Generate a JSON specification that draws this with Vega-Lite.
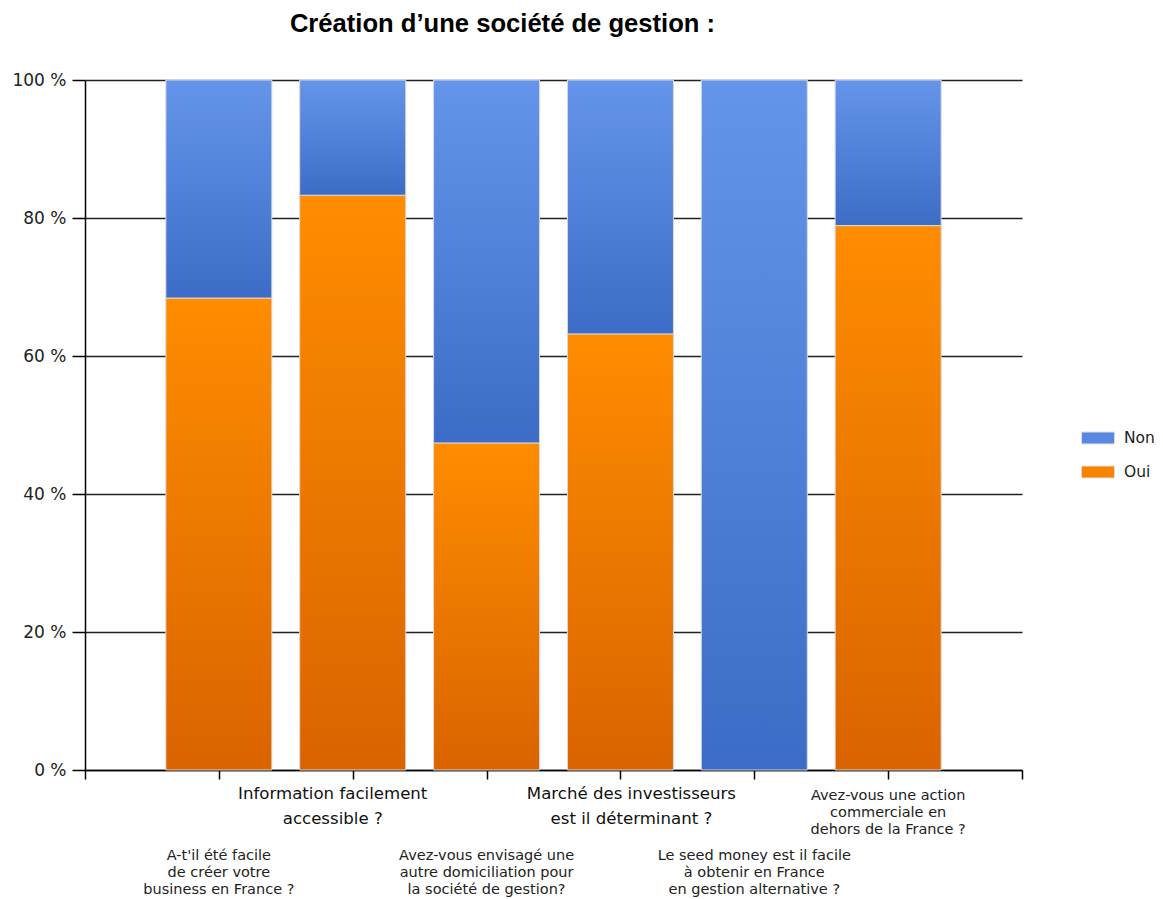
{
  "$schema": "https://vega.github.io/schema/vega-lite/v6.json",
  "width": 937,
  "height": 690,
  "autosize": {"type": "none"},
  "padding": {"left": 85, "top": 80, "right": 141, "bottom": 129},
  "background": "white",
  "title": {
    "text": "Création d’une société de gestion :",
    "font": "Liberation Sans",
    "fontSize": 25.6,
    "fontWeight": "bold",
    "color": "#000000",
    "anchor": "middle",
    "frame": "group",
    "dx": -51,
    "offset": 33
  },
  "datasets": {
    "bars": [
      {"q": 1, "reponse": "Oui", "debut": 0, "fin": 68.4},
      {"q": 1, "reponse": "Non", "debut": 68.4, "fin": 100},
      {"q": 2, "reponse": "Oui", "debut": 0, "fin": 83.3},
      {"q": 2, "reponse": "Non", "debut": 83.3, "fin": 100},
      {"q": 3, "reponse": "Oui", "debut": 0, "fin": 47.4},
      {"q": 3, "reponse": "Non", "debut": 47.4, "fin": 100},
      {"q": 4, "reponse": "Oui", "debut": 0, "fin": 63.2},
      {"q": 4, "reponse": "Non", "debut": 63.2, "fin": 100},
      {"q": 5, "reponse": "Oui", "debut": 0, "fin": 0},
      {"q": 5, "reponse": "Non", "debut": 0, "fin": 100},
      {"q": 6, "reponse": "Oui", "debut": 0, "fin": 78.9},
      {"q": 6, "reponse": "Non", "debut": 78.9, "fin": 100}
    ],
    "labels": [
      {"q": 1, "rang": "bas", "label": "A-t'il été facile\nde créer votre\nbusiness en France ?"},
      {"q": 2, "rang": "haut", "label": "Information facilement\naccessible ?"},
      {"q": 3, "rang": "bas", "label": "Avez-vous envisagé une\nautre domiciliation pour\nla société de gestion?"},
      {"q": 4, "rang": "haut", "label": "Marché des investisseurs\nest il déterminant ?"},
      {"q": 5, "rang": "bas", "label": "Le seed money est il facile\nà obtenir en France\nen gestion alternative ?"},
      {"q": 6, "rang": "haut2", "label": "Avez-vous une action\ncommerciale en\ndehors de la France ?"}
    ]
  },
  "config": {
    "view": {"stroke": null},
    "axis": {
      "domainColor": "#000000",
      "tickColor": "#000000",
      "gridColor": "#222222",
      "labelFont": "DejaVu Sans",
      "labelColor": "#222222"
    }
  },
  "encoding": {
    "x": {
      "field": "q",
      "type": "quantitative",
      "scale": {"domain": [0, 7], "nice": false, "zero": false, "padding": 0},
      "axis": {
        "title": null,
        "values": [0, 1, 2, 3, 4, 5, 6, 7],
        "labels": false,
        "grid": false,
        "tickSize": 9,
        "domainWidth": 1.5,
        "tickWidth": 1.5
      }
    }
  },
  "layer": [
    {
      "data": {"name": "bars"},
      "transform": [{"filter": "datum.reponse === 'Oui' && datum.fin > 0"}],
      "mark": {
        "type": "bar",
        "width": 106,
        "stroke": "#d9d9d9",
        "strokeWidth": 1,
        "fill": {
          "gradient": "linear",
          "x1": 0, "y1": 0, "x2": 0, "y2": 1,
          "stops": [
            {"offset": 0, "color": "#ff8c00"},
            {"offset": 1, "color": "#d96400"}
          ]
        }
      },
      "encoding": {
        "y": {
          "field": "debut",
          "type": "quantitative",
          "scale": {"domain": [0, 100], "nice": false},
          "axis": {
            "title": null,
            "values": [0, 20, 40, 60, 80, 100],
            "labelExpr": "datum.value + ' %'",
            "labelFontSize": 17,
            "labelPadding": 6,
            "tickSize": 13,
            "grid": true,
            "gridWidth": 1.5,
            "domainWidth": 1.5,
            "tickWidth": 1.5
          }
        },
        "y2": {"field": "fin"}
      }
    },
    {
      "data": {"name": "bars"},
      "transform": [{"filter": "datum.reponse === 'Non'"}],
      "mark": {
        "type": "bar",
        "width": 106,
        "stroke": "#d9d9d9",
        "strokeWidth": 1,
        "fill": {
          "gradient": "linear",
          "x1": 0, "y1": 0, "x2": 0, "y2": 1,
          "stops": [
            {"offset": 0, "color": "#6595ea"},
            {"offset": 1, "color": "#3d6cc6"}
          ]
        }
      },
      "encoding": {
        "y": {"field": "debut", "type": "quantitative"},
        "y2": {"field": "fin"}
      }
    },
    {
      "data": {"name": "bars"},
      "mark": {"type": "point", "shape": "square", "filled": true, "opacity": 0},
      "encoding": {
        "y": {"field": "fin", "type": "quantitative"},
        "color": {
          "field": "reponse",
          "type": "nominal",
          "scale": {"domain": ["Non", "Oui"], "range": ["#5a88e0", "#f88400"]},
          "legend": {
            "title": null,
            "orient": "none",
            "legendX": 996,
            "legendY": 341,
            "symbolType": "M-1,-0.36H1V0.36H-1Z",
            "symbolSize": 1089,
            "symbolOpacity": 1,
            "symbolStrokeColor": "#dddddd",
            "symbolStrokeWidth": 1,
            "labelFont": "DejaVu Sans",
            "labelFontSize": 15.5,
            "labelColor": "#222222",
            "rowPadding": 8,
            "labelOffset": 9
          }
        }
      }
    },
    {
      "data": {"name": "labels"},
      "transform": [{"filter": "datum.q === 2"}],
      "mark": {"type": "text", "baseline": "top", "align": "center", "dx": -20, "lineBreak": "\n", "font": "DejaVu Sans", "fontSize": 16.6, "lineHeight": 25, "color": "#111111"},
      "encoding": {
        "y": {"datum": -2.3},
        "text": {"field": "label"}
      }
    },
    {
      "data": {"name": "labels"},
      "transform": [{"filter": "datum.q === 4"}],
      "mark": {"type": "text", "baseline": "top", "align": "center", "dx": 11, "lineBreak": "\n", "font": "DejaVu Sans", "fontSize": 16.6, "lineHeight": 25, "color": "#111111"},
      "encoding": {
        "y": {"datum": -2.3},
        "text": {"field": "label"}
      }
    },
    {
      "data": {"name": "labels"},
      "transform": [{"filter": "datum.rang === 'haut2'"}],
      "mark": {"type": "text", "baseline": "top", "align": "center", "lineBreak": "\n", "font": "DejaVu Sans", "fontSize": 14.5, "lineHeight": 17, "color": "#222222"},
      "encoding": {
        "y": {"datum": -2.7},
        "text": {"field": "label"}
      }
    },
    {
      "data": {"name": "labels"},
      "transform": [{"filter": "datum.rang === 'bas'"}],
      "mark": {"type": "text", "baseline": "top", "align": "center", "lineBreak": "\n", "font": "DejaVu Sans", "fontSize": 14.5, "lineHeight": 17, "color": "#222222"},
      "encoding": {
        "y": {"datum": -11.4},
        "text": {"field": "label"}
      }
    }
  ]
}
